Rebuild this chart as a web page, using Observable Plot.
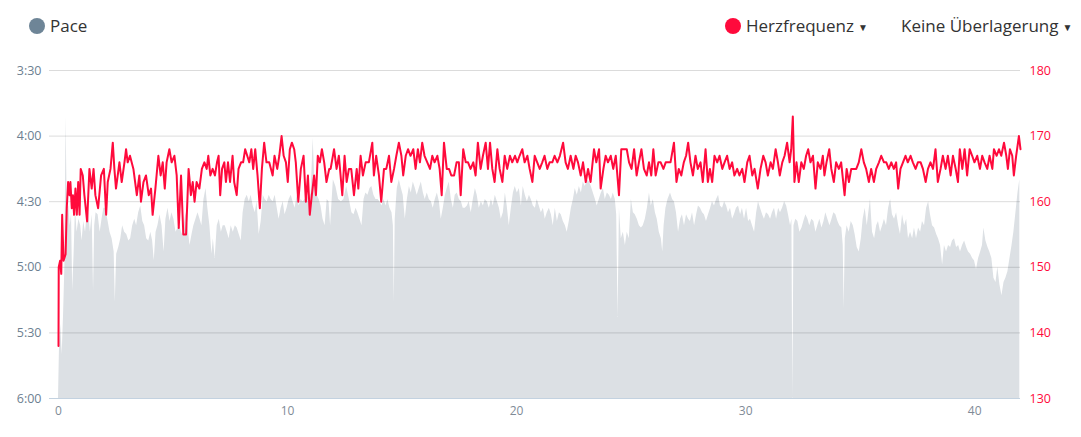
<!DOCTYPE html>
<html>
<head>
<meta charset="utf-8">
<script src="https://cdn.jsdelivr.net/npm/d3@7"></script>
<script src="https://cdn.jsdelivr.net/npm/@observablehq/plot@0.6"></script>
<style>
  html, body { margin: 0; padding: 0; background: #fff; }
  body { width: 1081px; height: 437px; overflow: hidden; font-family: "Open Sans", sans-serif; }
  #legend { position: relative; height: 50px; font-size: 17px; color: #333; }
  .item { position: absolute; top: 14px; line-height: 24px; white-space: nowrap; }
  .dot { display: inline-block; width: 16px; height: 16px; border-radius: 50%; vertical-align: -2px; margin-right: 5px; }
  .caret { font-size: 10px; margin-left: 4px; vertical-align: 1px; }
  #chart svg { display: block; }
</style>
</head>
<body>
<div id="legend">
  <div class="item" style="left:29px"><span class="dot" style="background:#6e8597"></span>Pace</div>
  <div class="item" style="left:725px"><span class="dot" style="background:#ff0a3c"></span>Herzfrequenz<span class="caret">▼</span></div>
  <div class="item" style="left:901px">Keine Überlagerung<span class="caret">▼</span></div>
</div>
<div id="chart"></div>
<script>
// ---- data ----
const kmTicks = [0, 10, 20, 30, 40];
const paceTicks = [210, 240, 270, 300, 330, 360];           // seconds per km
const paceLabels = ["3:30", "4:00", "4:30", "5:00", "5:30", "6:00"];
const hrTicks = [130, 140, 150, 160, 170, 180];
const distanceMax = 42;

// [km, seconds per km]
const pace = [
[0,360],[0.04,338],[0.10,326],[0.16,340],[0.22,322],[0.28,299],[0.33,231],[0.38,273],[0.45,272],[0.51,281],[0.57,276],[0.62,311],[0.68,294],[0.74,273],[0.81,284],[0.89,278],[0.97,281],[1.03,288],[1.10,279],[1.18,284],[1.25,276],[1.32,275],[1.39,284],[1.47,276],[1.53,311],[1.58,281],[1.64,275],[1.73,276],[1.82,284],[1.90,278],[1.98,273],[2.05,273],[2.15,278],[2.25,284],[2.34,287],[2.43,293],[2.48,316],[2.54,294],[2.63,291],[2.72,287],[2.80,281],[2.89,284],[2.98,285],[3.07,288],[3.15,287],[3.24,281],[3.33,278],[3.41,281],[3.50,275],[3.59,272],[3.68,279],[3.76,281],[3.85,287],[3.94,288],[4.03,284],[4.11,288],[4.18,297],[4.26,284],[4.34,281],[4.43,276],[4.52,281],[4.61,293],[4.69,278],[4.78,273],[4.87,279],[4.95,275],[5.04,278],[5.13,284],[5.22,282],[5.30,281],[5.39,285],[5.48,281],[5.57,275],[5.65,281],[5.74,290],[5.83,285],[5.91,281],[6.00,278],[6.09,275],[6.18,278],[6.26,281],[6.35,269],[6.44,264],[6.52,273],[6.61,281],[6.70,294],[6.76,287],[6.84,296],[6.93,281],[7.02,278],[7.11,284],[7.19,281],[7.28,281],[7.37,284],[7.45,287],[7.54,281],[7.63,284],[7.72,281],[7.80,282],[7.89,285],[7.98,288],[8.06,275],[8.15,269],[8.24,267],[8.33,270],[8.41,267],[8.50,272],[8.59,275],[8.67,270],[8.76,285],[8.85,279],[8.94,267],[9.02,269],[9.11,270],[9.20,267],[9.28,269],[9.37,270],[9.46,267],[9.55,273],[9.63,278],[9.72,273],[9.81,270],[9.89,276],[9.98,273],[10.07,269],[10.16,267],[10.24,270],[10.33,273],[10.42,267],[10.51,272],[10.59,269],[10.68,270],[10.77,269],[10.85,267],[10.94,269],[11.03,266],[11.12,241],[11.20,264],[11.29,267],[11.38,269],[11.46,272],[11.55,278],[11.64,281],[11.73,269],[11.81,270],
[11.88,281],[12.00,260],[12.11,263],[12.23,269],[12.35,270],[12.46,269],[12.58,263],[12.70,269],[12.81,275],[12.90,276],[12.99,273],[13.07,275],[13.16,278],[13.25,281],[13.34,269],[13.42,266],[13.51,267],[13.60,264],[13.68,263],[13.77,267],[13.86,269],[13.95,269],[14.03,270],[14.12,272],[14.21,269],[14.30,272],[14.38,269],[14.47,273],[14.56,275],[14.62,281],[14.66,316],[14.70,278],[14.79,264],[14.88,260],[14.97,264],[15.05,267],[15.14,278],[15.23,269],[15.32,263],[15.40,266],[15.49,261],[15.58,264],[15.66,267],[15.75,264],[15.84,261],[15.93,266],[16.01,269],[16.10,266],[16.19,269],[16.28,270],[16.36,273],[16.45,269],[16.54,266],[16.63,270],[16.71,278],[16.80,273],[16.89,267],[16.97,264],[17.06,261],[17.15,269],[17.24,273],[17.32,267],[17.41,266],[17.50,269],[17.59,270],[17.67,273],[17.76,273],[17.85,272],[17.93,270],[18.02,275],[18.11,269],[18.20,264],[18.28,267],[18.37,273],[18.46,270],[18.55,272],[18.63,269],[18.72,270],[18.81,273],[18.90,269],[18.98,272],[19.07,267],[19.16,270],[19.25,273],[19.33,278],[19.42,275],[19.51,266],[19.59,272],[19.68,281],[19.77,273],[19.86,266],[19.94,263],[20.03,266],[20.12,264],[20.21,272],[20.29,263],[20.38,267],[20.47,270],[20.56,267],[20.64,269],[20.73,272],[20.82,273],[20.90,269],[20.99,272],[21.08,275],[21.17,273],[21.25,278],[21.34,275],[21.43,273],[21.52,276],[21.60,281],[21.69,273],[21.78,279],[21.87,275],[21.95,276],[22.04,279],[22.13,281],[22.21,284],[22.30,279],[22.39,273],[22.48,269],[22.56,264],[22.65,267],[22.74,263],[22.83,266],[22.91,261],[23.00,263],[23.09,260],[23.18,261],[23.26,263],[23.35,266],[23.44,269],[23.52,272],[23.61,269],[23.70,266],[23.79,264],[23.87,269],[23.96,266],[24.05,267],[24.14,269],[24.22,266],[24.31,269],[24.37,276],[24.43,323],[24.49,273],[24.57,287],[24.66,284],[24.75,290],[24.83,284],[24.92,287],[25.01,269],[25.10,275],[25.18,276],[25.27,278],[25.36,281],[25.45,282],[25.53,281],[25.62,278],[25.71,273],[25.80,266],[25.88,272],[25.97,269],[26.06,275],[26.14,278],[26.23,284],[26.32,287],[26.38,293],[26.44,281],[26.52,273],[26.61,269],
[26.72,266],[26.81,269],[26.89,270],[26.98,275],[27.07,284],[27.16,278],[27.24,276],[27.33,281],[27.42,276],[27.51,278],[27.59,279],[27.68,275],[27.77,281],[27.86,276],[27.94,272],[28.03,273],[28.12,275],[28.20,276],[28.29,279],[28.38,276],[28.47,273],[28.55,270],[28.64,272],[28.73,269],[28.82,267],[28.90,272],[28.99,273],[29.08,270],[29.17,272],[29.25,275],[29.34,273],[29.43,278],[29.51,276],[29.60,273],[29.69,272],[29.78,276],[29.86,273],[29.95,278],[30.04,273],[30.13,279],[30.21,278],[30.30,281],[30.39,284],[30.48,275],[30.56,270],[30.65,273],[30.74,276],[30.82,278],[30.91,275],[31.00,276],[31.09,278],[31.17,275],[31.26,273],[31.35,278],[31.44,273],[31.52,275],[31.61,273],[31.70,270],[31.79,272],[31.87,276],[31.96,281],[32.02,278],[32.06,360],[32.11,281],[32.19,278],[32.28,279],[32.37,284],[32.46,282],[32.54,279],[32.63,276],[32.72,278],[32.80,281],[32.89,278],[32.98,279],[33.07,284],[33.15,281],[33.24,278],[33.33,282],[33.42,279],[33.50,275],[33.59,278],[33.68,281],[33.77,278],[33.85,275],[33.94,276],[34.03,279],[34.11,281],[34.20,282],[34.26,290],[34.30,319],[34.35,287],[34.43,281],[34.52,284],[34.61,279],[34.70,281],[34.78,285],[34.87,291],[34.96,293],[35.05,287],[35.13,278],[35.22,273],[35.31,281],[35.40,273],[35.45,269],[35.54,284],[35.63,287],[35.72,281],[35.80,279],[35.89,284],[35.98,281],[36.06,278],[36.15,281],[36.24,273],[36.33,269],[36.41,276],[36.50,278],[36.59,275],[36.68,281],[36.76,285],[36.85,276],[36.94,281],[37.03,278],[37.11,287],[37.20,284],[37.29,287],[37.37,282],[37.46,287],[37.55,282],[37.64,284],[37.72,279],[37.81,281],[37.90,273],[37.99,270],[38.07,276],[38.16,281],[38.25,282],[38.34,285],[38.42,287],[38.51,290],[38.60,299],[38.68,290],[38.77,293],[38.86,290],[38.95,291],[39.03,288],[39.12,287],[39.21,291],[39.30,290],[39.38,293],[39.47,290],[39.56,288],[39.65,291],[39.73,293],[39.82,294],[39.91,296],[39.99,297],[40.08,301],[40.17,296],[40.26,293],[40.34,290],[40.40,282],[40.49,288],[40.58,291],[40.66,293],[40.75,296],[40.84,305],[40.93,307],[41.01,300],[41.10,308],[41.19,313],[41.28,307],[41.36,305],[41.45,302],[41.54,296],[41.63,290],[41.71,284],[41.80,275],[41.89,266],[41.97,260]
];

// [km, bpm]
const heartRate = [
[0,138],[0.01,150],[0.07,151],[0.12,149],[0.16,158],[0.22,151],[0.31,152],[0.36,159],[0.42,163],[0.48,161],[0.52,163],[0.58,159],[0.63,161],[0.68,158],[0.74,162],[0.80,158],[0.86,163],[0.92,158],[0.97,165],[1.06,164],[1.13,161],[1.25,157],[1.35,165],[1.45,162],[1.53,165],[1.61,161],[1.73,159],[1.86,164],[1.98,165],[2.08,158],[2.15,163],[2.27,165],[2.37,169],[2.44,165],[2.51,162],[2.66,166],[2.76,163],[2.88,166],[2.95,168],[3.02,166],[3.12,167],[3.27,165],[3.42,161],[3.53,164],[3.60,160],[3.71,163],[3.82,164],[3.94,161],[4.04,162],[4.11,158],[4.23,162],[4.36,167],[4.46,164],[4.55,166],[4.64,162],[4.72,166],[4.84,168],[4.94,166],[5.06,167],[5.16,164],[5.25,156],[5.35,164],[5.45,155],[5.57,155],[5.68,165],[5.78,161],[5.86,163],[5.94,160],[6.03,163],[6.15,162],[6.26,165],[6.37,166],[6.47,165],[6.54,167],[6.63,164],[6.73,165],[6.83,164],[6.92,166],[6.99,167],[7.06,161],[7.14,165],[7.24,166],[7.31,163],[7.40,166],[7.49,163],[7.60,167],[7.67,163],[7.78,161],[7.86,165],[7.97,166],[8.06,166],[8.15,168],[8.24,167],[8.33,166],[8.42,168],[8.50,165],[8.59,168],[8.69,164],[8.79,159],[8.88,165],[8.98,169],[9.08,166],[9.20,166],[9.35,164],[9.43,167],[9.55,165],[9.64,167],[9.74,170],[9.83,167],[9.93,166],[10.01,163],[10.10,168],[10.19,169],[10.29,168],[10.36,166],[10.47,160],[10.58,165],[10.70,167],[10.80,160],[10.89,164],[10.97,158],[11.06,161],[11.16,164],[11.24,161],[11.32,167],[11.41,166],[11.50,168],[11.60,166],[11.70,163],[11.82,165],
[11.88,165],[12.03,168],[12.14,165],[12.24,167],[12.39,161],[12.49,167],[12.58,163],[12.68,165],[12.78,165],[12.90,161],[13.02,165],[13.09,162],[13.19,167],[13.29,164],[13.41,166],[13.55,166],[13.70,169],[13.77,164],[13.87,167],[13.99,164],[14.09,160],[14.21,165],[14.31,165],[14.43,167],[14.53,163],[14.65,165],[14.75,167],[14.86,169],[14.97,167],[15.05,164],[15.16,167],[15.26,168],[15.37,167],[15.49,168],[15.59,165],[15.69,168],[15.78,166],[15.88,169],[15.98,167],[16.10,166],[16.22,165],[16.32,167],[16.42,166],[16.54,167],[16.64,165],[16.73,161],[16.83,169],[16.95,165],[17.05,165],[17.15,164],[17.27,164],[17.38,166],[17.48,166],[17.56,161],[17.67,168],[17.78,166],[17.88,166],[17.99,165],[18.11,166],[18.21,164],[18.31,169],[18.43,165],[18.53,167],[18.65,169],[18.75,165],[18.84,169],[18.94,165],[19.04,163],[19.16,168],[19.26,165],[19.38,163],[19.48,167],[19.59,165],[19.71,167],[19.81,166],[19.93,167],[20.03,166],[20.13,167],[20.25,168],[20.35,166],[20.47,167],[20.57,165],[20.69,163],[20.79,167],[20.90,166],[21.01,165],[21.12,166],[21.22,167],[21.34,165],[21.44,166],[21.56,166],[21.66,167],[21.78,166],[21.89,167],[22.03,169],[22.14,166],[22.24,165],[22.36,167],[22.48,165],[22.58,167],[22.68,166],[22.80,164],[22.90,166],[23.02,163],[23.12,165],[23.23,163],[23.38,168],[23.48,166],[23.60,168],[23.67,162],[23.79,165],[23.89,167],[23.99,166],[24.11,167],[24.22,165],[24.33,167],[24.47,161],[24.57,168],[24.69,168],[24.81,168],[24.91,166],[25.02,165],[25.13,168],[25.24,164],[25.34,166],[25.45,168],[25.56,165],[25.68,164],[25.78,166],[25.88,164],[25.97,168],[26.07,164],[26.19,166],[26.29,166],[26.41,165],[26.51,166],[26.61,166],
[26.72,166],[26.87,169],[26.98,163],[27.08,165],[27.19,164],[27.30,166],[27.40,167],[27.49,169],[27.59,166],[27.70,164],[27.81,167],[27.91,165],[28.03,166],[28.13,163],[28.25,168],[28.35,163],[28.44,165],[28.54,163],[28.64,167],[28.76,166],[28.86,167],[28.98,165],[29.08,166],[29.19,167],[29.30,165],[29.41,166],[29.51,164],[29.63,165],[29.73,164],[29.85,165],[29.95,163],[30.07,166],[30.17,167],[30.29,164],[30.39,165],[30.53,162],[30.65,165],[30.77,167],[30.87,166],[30.97,164],[31.09,166],[31.19,165],[31.31,168],[31.41,166],[31.49,164],[31.60,166],[31.70,167],[31.81,169],[31.92,166],[31.99,168],[32.06,173],[32.13,163],[32.22,166],[32.32,163],[32.43,166],[32.54,165],[32.64,167],[32.73,168],[32.83,166],[32.94,167],[33.05,162],[33.15,166],[33.27,165],[33.37,167],[33.44,164],[33.53,166],[33.65,168],[33.74,165],[33.85,163],[33.95,166],[34.07,165],[34.17,166],[34.32,161],[34.41,165],[34.51,163],[34.61,165],[34.73,165],[34.83,165],[34.94,166],[35.05,168],[35.16,166],[35.26,165],[35.38,163],[35.48,165],[35.60,163],[35.70,165],[35.82,166],[35.92,167],[36.04,166],[36.14,166],[36.25,165],[36.36,166],[36.47,165],[36.57,166],[36.66,162],[36.76,165],[36.87,166],[36.98,167],[37.08,166],[37.20,167],[37.30,166],[37.42,165],[37.52,166],[37.64,166],[37.74,165],[37.86,163],[37.96,165],[38.07,166],[38.18,165],[38.29,168],[38.39,163],[38.51,165],[38.61,167],[38.73,165],[38.83,167],[38.95,164],[39.05,167],[39.17,165],[39.27,163],[39.35,168],[39.46,165],[39.56,168],[39.67,164],[39.78,168],[39.89,167],[39.99,166],[40.11,167],[40.23,165],[40.33,167],[40.43,166],[40.55,165],[40.65,167],[40.77,165],[40.84,168],[40.96,167],[41.06,168],[41.16,167],[41.28,169],[41.38,167],[41.45,165],[41.54,168],[41.64,167],[41.71,164],[41.81,167],[41.93,170],[42.00,168]
];

// ---- chart ----
const paceBottom = paceTicks[paceTicks.length - 1];
const paceTop = paceTicks[0];
// heart-rate axis (130..180) shares the same vertical extent as pace (6:00..3:30)
const hrToPace = hr => paceBottom - (hr - hrTicks[0]) * (paceBottom - paceTop) / (hrTicks[hrTicks.length - 1] - hrTicks[0]);

const chart = Plot.plot({
  width: 1081,
  height: 387,
  marginLeft: 58,
  marginRight: 61,
  marginTop: 20,
  marginBottom: 39,
  style: { fontFamily: "'Open Sans', sans-serif", background: "transparent", overflow: "visible" },
  x: { domain: [0, distanceMax], axis: null },
  y: { domain: [paceBottom, paceTop], axis: null },
  marks: [
    Plot.areaY(pace, { x: d => d[0], y1: () => paceBottom, y2: d => d[1], fill: "#dce0e4", curve: "linear" }),
    Plot.ruleY(paceTicks.slice(0, -1), { y: d => d, stroke: "#000", strokeOpacity: 0.14, insetLeft: -9 }),
    Plot.ruleY([paceBottom], { y: d => d, stroke: "#c3d2e0", insetLeft: -9 }),
    Plot.line(heartRate, { x: d => d[0], y: d => hrToPace(d[1]), stroke: "#ff0a3c", strokeWidth: 2, curve: "linear" }),
    Plot.text(paceTicks, { y: d => d, text: (d, i) => paceLabels[i], frameAnchor: "left", textAnchor: "end", dx: -17, fill: "#6d7f91", fontSize: 12.5 }),
    Plot.text(hrTicks, { y: d => hrToPace(d), text: d => String(d), frameAnchor: "right", textAnchor: "start", dx: 9, fill: "#ff0a3c", fontSize: 12.5 }),
    Plot.text(kmTicks, { x: d => d, text: d => String(d), frameAnchor: "bottom", dy: 16, fill: "#7f8b97", fontSize: 12 })
  ]
});
document.getElementById("chart").appendChild(chart);
</script>
</body>
</html>
